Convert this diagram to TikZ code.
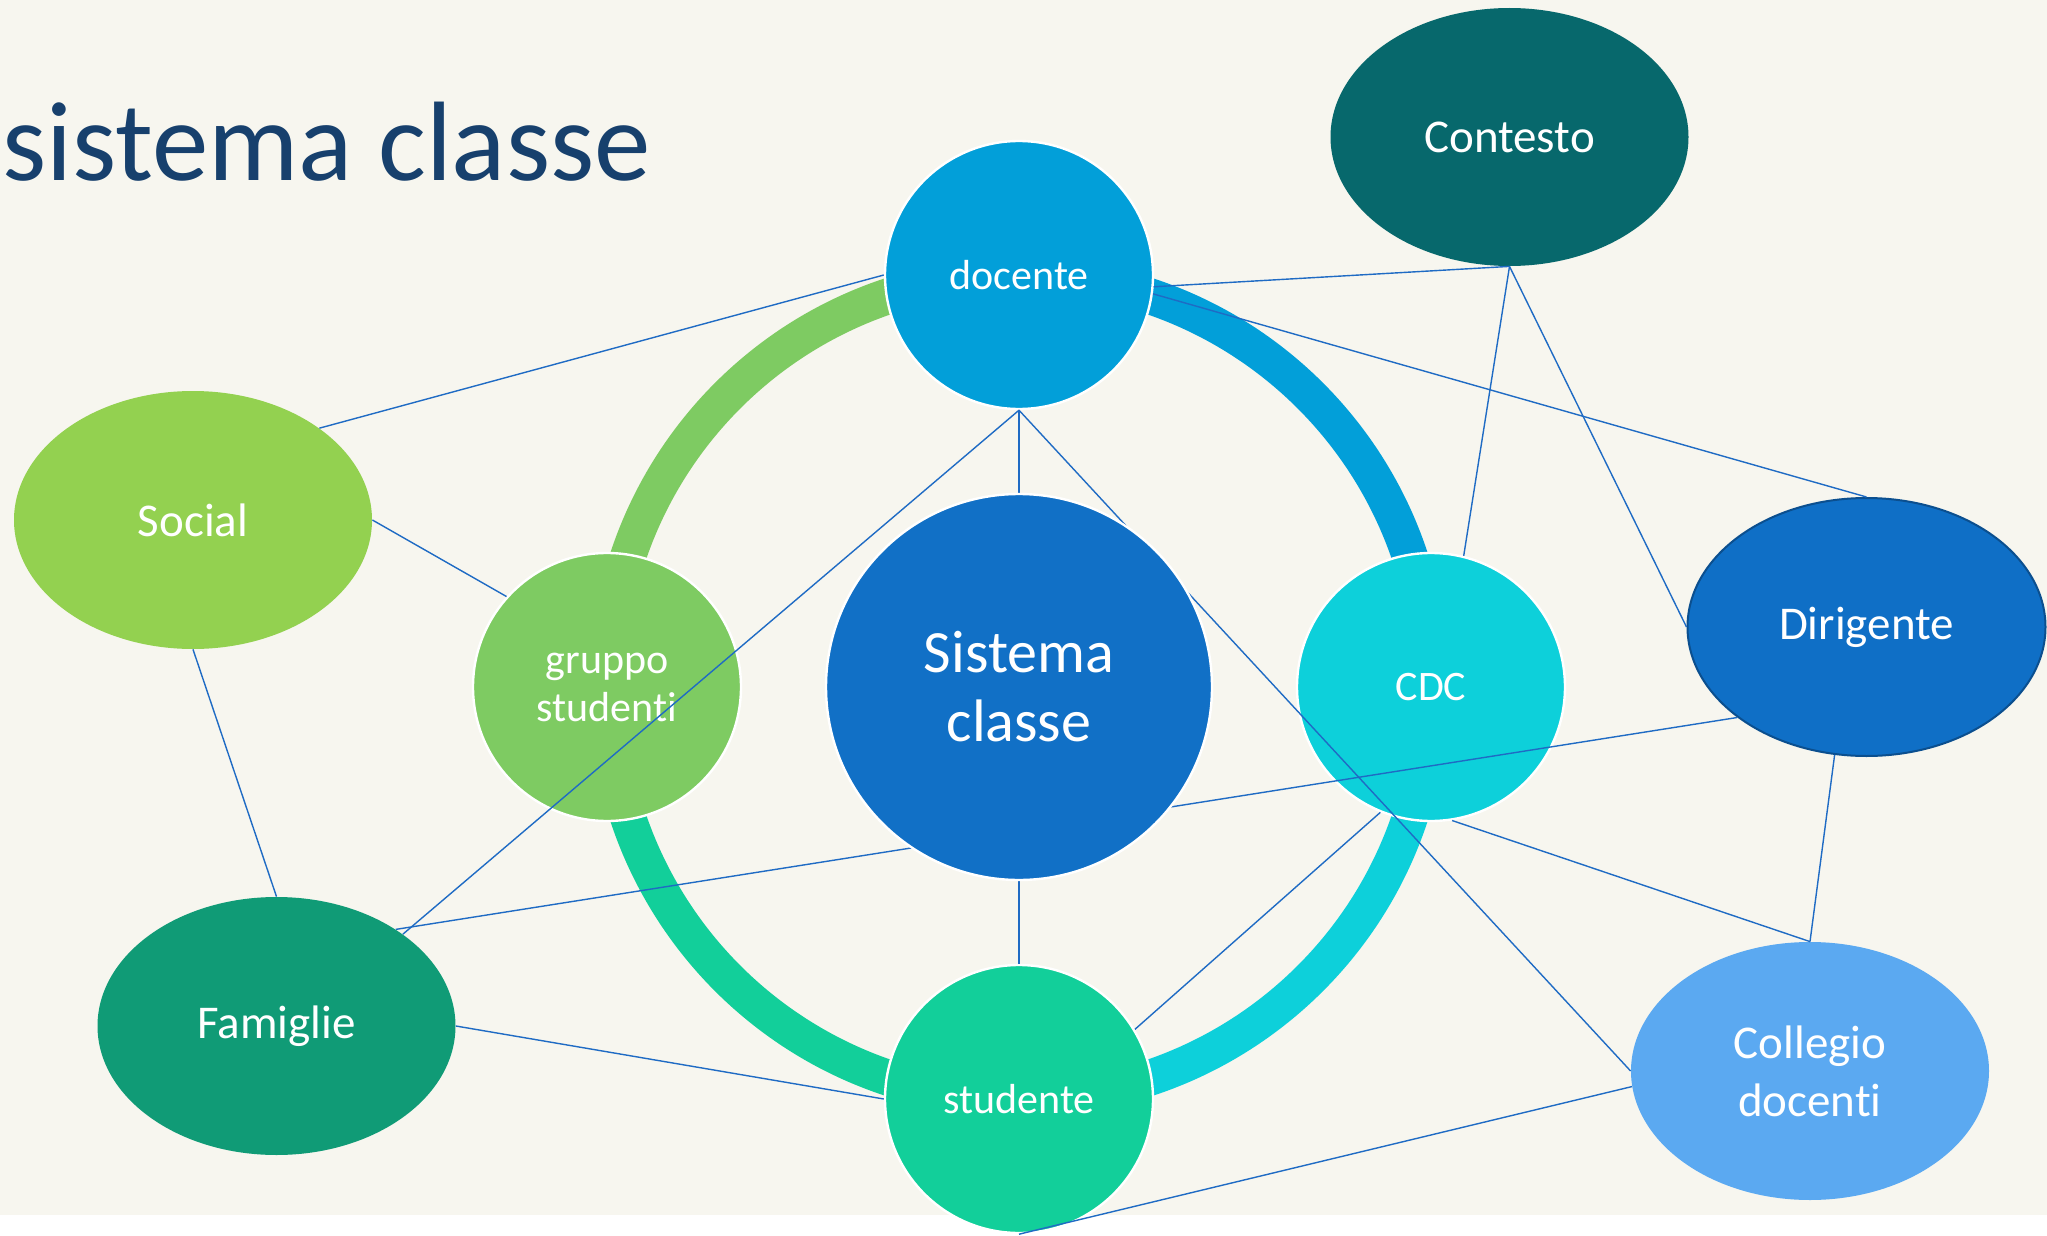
\documentclass[tikz,border=0pt]{standalone}
\usepackage{fontspec}
\setmainfont{Carlito}[Ligatures=NoCommon]
\usetikzlibrary{shapes}
\definecolor{bgbeige}{HTML}{F7F6EF}
\definecolor{titleblue}{HTML}{17406D}
\definecolor{docblue}{HTML}{029FD9}
\definecolor{sysblue}{HTML}{1170C6}
\definecolor{dirblue}{HTML}{0F6FC6}
\definecolor{dirline}{HTML}{0B4F8F}
\definecolor{ctxteal}{HTML}{07686C}
\definecolor{socgreen}{HTML}{93D150}
\definecolor{grpgreen}{HTML}{7ECB62}
\definecolor{famgreen}{HTML}{109B76}
\definecolor{stuteal}{HTML}{12CF9A}
\definecolor{cdccyan}{HTML}{0DD0DA}
\definecolor{colblue}{HTML}{5BA9F1}
\definecolor{linkblue}{HTML}{1F6BC4}

\begin{document}
\begin{tikzpicture}[x=0.5pt,y=0.5pt,
  circ/.style={circle,draw=white,line width=1.2pt,minimum size=134pt,inner sep=0pt,text=white,font=\fontsize{21}{24}\selectfont,align=center},
  ell/.style={ellipse,minimum width=179pt,minimum height=129pt,inner sep=0pt,text=white,font=\fontsize{23.5}{29}\selectfont,align=center},
  ring/.style={line width=18pt},
  link/.style={draw=linkblue,line width=0.7pt}]
  \useasboundingbox[fill=white] (0,0) rectangle (2047,-1236);
  \fill[bgbeige] (0,0) rectangle (2047,-1215);
  \node[anchor=base west,inner sep=0pt,text=titleblue,font=\fontsize{56.5}{60}\selectfont] (title) at (2,-181) {sistema classe};

  % cycle ring
  \coordinate (ctr) at (1019,-687);
  \draw[ring,docblue] ([shift={(0:412)}]ctr) arc (0:90:412);
  \draw[ring,grpgreen] ([shift={(90:412)}]ctr) arc (90:180:412);
  \draw[ring,stuteal] ([shift={(180:412)}]ctr) arc (180:270:412);
  \draw[ring,cdccyan] ([shift={(270:412)}]ctr) arc (270:360:412);

  \node[circ,fill=docblue] (doc) at (1019,-275) {docente};
  \node[circ,fill=grpgreen] (grp) at (607,-687) {gruppo\\studenti};
  \node[circ,fill=cdccyan] (cdc) at (1431,-687) {CDC};
  \node[circ,fill=stuteal] (stu) at (1019,-1099) {studente};
  \node[ell,fill=ctxteal] (ctx) at (1509.5,-137) {Contesto};
  \node[ell,fill=socgreen] (soc) at (193,-520) {Social};
  \node[ell,fill=dirblue,draw=dirline,line width=1pt] (dir) at (1866.5,-627) {Dirigente};
  \node[ell,fill=famgreen] (fam) at (276.5,-1026) {Famiglie};
  \node[ell,fill=colblue] (col) at (1810,-1071) {Collegio\\docenti};

  % links
  \draw[link] (soc.36) -- (doc.west);
  \draw[link] (soc.east) -- (grp.138);
  \draw[link] (soc.south) -- (fam.north);
  \draw[link] (doc.south) -- (fam.36);
  \draw[link] (fam.39) -- (dir.215);
  \draw[link] (fam.east) -- (stu.west);
  \draw[link] (doc.south) -- (stu.north);
  \draw[link] (doc.south) -- (col.west);
  \draw[link] (ctx.south) -- (doc.-5);
  \draw[link] (doc.-8) -- (dir.north);
  \draw[link] (ctx.south) -- (cdc.76);
  \draw[link] (ctx.south) -- (dir.west);
  \draw[link] (dir.256) -- (col.north);
  \draw[link] (cdc.-81) -- (col.north);
  \draw[link] (cdc.248) -- (stu.31);
  \draw[link] (col.185) -- (stu.south);

  \node[circ,fill=sysblue,minimum size=193pt,font=\fontsize{30}{34.5}\selectfont] (sys) at (ctr) {Sistema\\classe};
\end{tikzpicture}
\end{document}
